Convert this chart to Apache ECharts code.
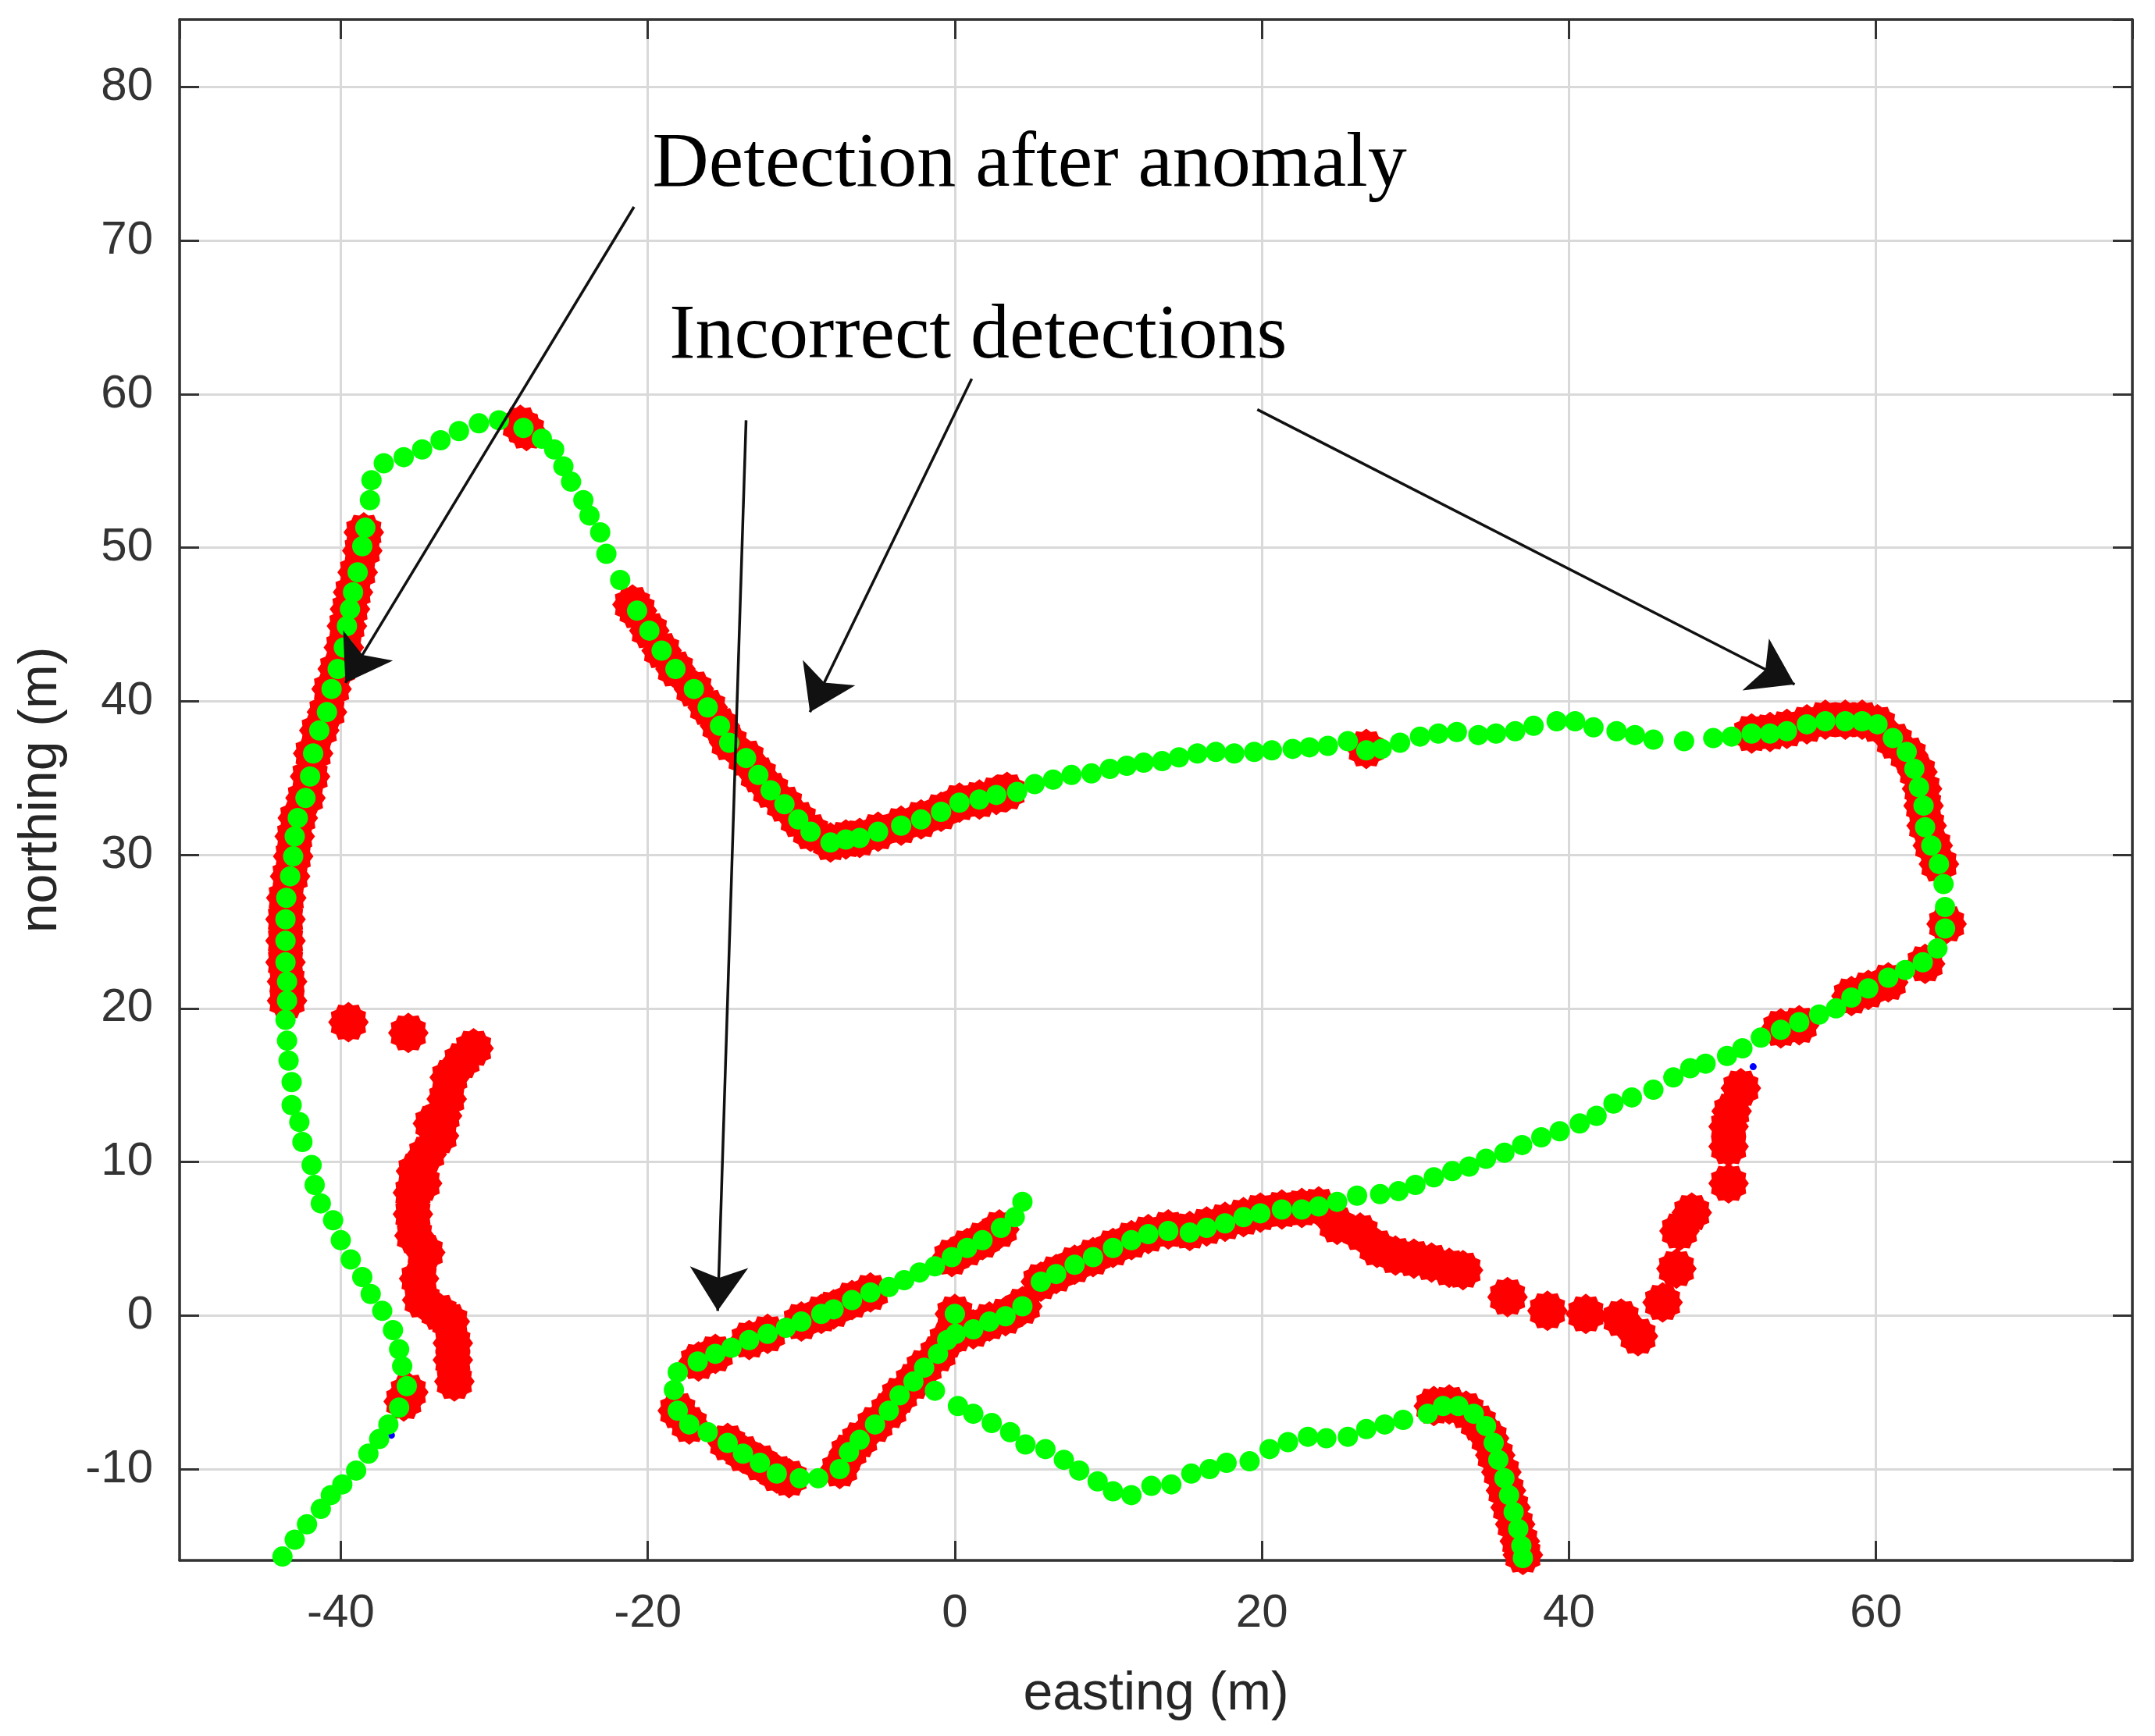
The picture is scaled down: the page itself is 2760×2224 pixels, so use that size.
<!DOCTYPE html>
<html>
<head>
<meta charset="utf-8">
<title>Detections along the track</title>
<script src="https://cdn.jsdelivr.net/npm/echarts@6/dist/echarts.min.js"></script>
<style>
html, body { margin: 0; padding: 0; background: #fff; }
#main { width: 2760px; height: 2224px; }
</style>
</head>
<body>
<div id="main"></div>
<script>
// axis extents (axis equal)
var xRange = [-50.5, 76.7];
var yRange = [-15.95, 84.4];

// green: vehicle track, [easting, northing]
var trackSouthWest = [[-43.8,-15.7],[-43.0,-14.6],[-42.2,-13.6],[-41.3,-12.6],[-40.65,-11.7],[-39.9,-11.0],[-39.0,-10.1],[-38.2,-9.0],[-37.5,-8.05],[-36.9,-7.1],[-36.2,-6.0],[-35.7,-4.6],[-36.0,-3.3],[-36.2,-2.2],[-36.6,-0.95],[-37.3,0.3],[-38.05,1.4],[-38.6,2.5],[-39.35,3.65],[-40.0,4.9],[-40.5,6.2],[-41.3,7.3],[-41.7,8.5],[-41.9,9.8],[-42.5,11.3],[-42.7,12.6],[-43.2,13.7],[-43.2,15.2],[-43.4,16.6],[-43.5,17.9],[-43.6,19.25]];
var trackWest = [[-43.5,20.5],[-43.5,21.75],[-43.6,23.0],[-43.6,24.4],[-43.6,25.8],[-43.55,27.2],[-43.3,28.6],[-43.1,29.9],[-43.0,31.2],[-42.8,32.4],[-42.3,33.7],[-42.0,35.1],[-41.8,36.6],[-41.4,38.1],[-40.9,39.3],[-40.6,40.8],[-40.2,42.1],[-39.8,43.5],[-39.6,44.9],[-39.4,46.0],[-39.2,47.1],[-38.9,48.4],[-38.6,50.1],[-38.4,51.3],[-38.1,53.1],[-38.0,54.4],[-37.2,55.5],[-35.9,55.9],[-34.7,56.4],[-33.5,57.0],[-32.3,57.6],[-31.0,58.1],[-29.7,58.3],[-28.1,57.8],[-26.9,57.1],[-26.1,56.4],[-25.5,55.3],[-25.0,54.3],[-24.2,53.1],[-23.8,52.1],[-23.1,51.0],[-22.7,49.6],[-21.8,47.9],[-20.7,45.9],[-19.9,44.6],[-19.1,43.3],[-18.2,42.1],[-17.0,40.8],[-16.1,39.6],[-15.3,38.4],[-14.7,37.3],[-13.6,36.3],[-12.8,35.2],[-12.0,34.2],[-11.1,33.3],[-10.2,32.3],[-9.4,31.5],[-8.1,30.8]];
var trackNorth = [[-7.1,31.0],[-6.2,31.1],[-5.0,31.5],[-3.5,31.9],[-2.2,32.3],[-0.9,32.8],[0.3,33.4],[1.6,33.6],[2.7,33.9],[4.05,34.1],[5.2,34.6],[6.4,34.9],[7.6,35.2],[8.9,35.3],[10.1,35.6],[11.2,35.8],[12.3,36.0],[13.5,36.1],[14.6,36.35],[15.8,36.6],[17.0,36.7],[18.2,36.6],[19.5,36.7],[20.65,36.8],[22.0,36.9],[23.1,37.0],[24.3,37.1],[25.6,37.4],[26.8,36.8],[27.8,36.9],[29.0,37.3],[30.3,37.7],[31.5,37.9],[32.7,38.0],[34.1,37.8],[35.25,37.9],[36.5,38.05],[37.7,38.4],[39.2,38.7],[40.4,38.7],[41.6,38.3],[43.1,38.05],[44.3,37.8],[45.5,37.5],[47.5,37.4],[49.4,37.6],[50.6,37.7],[51.9,37.9],[53.1,37.9],[54.2,38.05],[55.5,38.5],[56.7,38.7],[58.0,38.7],[59.1,38.7],[60.1,38.5]];
var trackEast = [[61.1,37.6],[62.0,36.7],[62.5,35.6],[62.8,34.4],[63.1,33.2],[63.2,31.8],[63.6,30.6],[64.1,29.4],[64.4,28.1],[64.5,26.6],[64.5,25.2],[64.0,23.9],[63.05,23.0],[61.9,22.5],[60.8,22.0],[59.5,21.3],[58.4,20.7],[57.4,20.0],[56.3,19.6],[55.0,19.1],[53.8,18.6],[52.5,18.1],[51.3,17.4],[50.3,16.9],[48.9,16.4],[47.9,16.1],[46.8,15.5],[45.5,14.7],[44.1,14.2],[42.9,13.8],[41.8,13.0],[40.7,12.5],[39.4,12.0],[38.2,11.6],[36.95,11.1],[35.8,10.6],[34.6,10.2],[33.5,9.7],[32.4,9.4],[31.2,9.0],[30.0,8.5],[28.9,8.1],[27.7,7.9],[26.2,7.8],[24.9,7.4],[23.7,7.1],[22.6,6.9],[21.3,6.9],[19.9,6.65],[18.8,6.4],[17.6,6.0],[16.4,5.7],[15.3,5.4],[13.9,5.5],[12.6,5.3],[11.5,4.9],[10.3,4.4],[9.0,3.8],[7.8,3.3],[6.6,2.7],[5.6,2.2],[4.4,0.6],[3.3,-0.05],[2.25,-0.4],[1.2,-0.9],[0.06,-1.2],[0.0,0.1],[-0.5,-1.6],[-1.1,-2.5],[-2.0,-3.4],[-2.7,-4.3],[-3.6,-5.2],[-4.3,-6.2],[-5.2,-7.1],[-6.2,-8.1],[-6.9,-8.9],[-7.5,-10.0],[-8.9,-10.6],[-10.1,-10.6],[-11.6,-10.3],[-12.7,-9.6],[-13.8,-9.0],[-14.8,-8.3],[-16.1,-7.6],[-17.3,-7.1],[-18.05,-6.2],[-18.3,-4.85],[-18.05,-3.7]];
var trackLoop = [[-16.75,-3.0],[-15.6,-2.5],[-14.55,-2.1],[-13.4,-1.6],[-12.2,-1.2],[-11.0,-0.8],[-10.0,-0.4],[-8.7,0.1],[-7.9,0.4],[-6.7,1.0],[-5.5,1.5],[-4.3,1.85],[-3.3,2.3],[-2.3,2.8],[-1.3,3.2],[-0.2,3.8],[0.8,4.4],[1.8,4.9],[3.0,5.7],[3.9,6.4],[4.4,7.4]];
var trackSouth = [[-1.3,-4.9],[0.2,-5.9],[1.2,-6.4],[2.4,-7.0],[3.6,-7.6],[4.6,-8.4],[5.9,-8.7],[7.1,-9.4],[8.1,-10.1],[9.3,-10.8],[10.3,-11.45],[11.5,-11.7],[12.8,-11.1],[14.1,-11.0],[15.4,-10.3],[16.6,-10.0],[17.7,-9.6],[19.2,-9.5],[20.5,-8.7],[21.7,-8.25],[23.0,-7.9],[24.2,-8.0],[25.6,-7.9],[26.8,-7.4],[28.0,-7.1],[29.2,-6.8],[30.8,-6.4],[31.8,-5.9],[32.8,-5.9],[33.8,-6.4],[34.6,-7.2],[35.1,-8.3],[35.4,-9.4],[35.8,-10.6],[36.1,-11.7],[36.4,-12.8],[36.7,-13.9],[36.9,-15.0],[37.0,-15.8]];

// red: detections
var detWest = [[-43.5,20.5],[-43.5,21.75],[-43.6,23.0],[-43.6,24.4],[-43.6,25.8],[-43.55,27.2],[-43.3,28.6],[-43.1,29.9],[-43.0,31.2],[-42.8,32.4],[-42.3,33.7],[-42.0,35.1],[-41.8,36.6],[-41.4,38.1],[-40.9,39.3],[-40.6,40.8],[-40.2,42.1],[-39.8,43.5],[-39.6,44.9],[-39.4,46.0],[-39.2,47.1],[-38.9,48.4],[-38.6,49.8],[-38.5,51.0]];
var detNorth = [[-28.3,58.0],[-27.9,57.6],[-21.0,46.3],[-20.7,45.9],[-19.9,44.6],[-19.1,43.3],[-18.2,42.1],[-17.0,40.8],[-16.1,39.6],[-15.3,38.4],[-14.7,37.3],[-13.6,36.3],[-12.8,35.2],[-12.0,34.2],[-11.1,33.3],[-10.2,32.3],[-9.4,31.5],[-8.1,30.8],[-7.1,31.0],[-6.2,31.1],[-5.0,31.5],[-3.5,31.9],[-2.2,32.3],[-0.9,32.8],[0.3,33.4],[1.6,33.6],[2.7,33.9],[3.4,34.1],[26.8,36.9]];
var detEast = [[51.9,37.9],[53.1,38.0],[54.2,38.2],[55.5,38.5],[56.7,38.8],[58.0,38.8],[59.1,38.8],[60.1,38.5],[61.2,37.4],[62.1,36.5],[62.7,35.4],[63.0,34.3],[63.1,33.2],[63.3,31.9],[63.7,30.6],[64.1,29.4],[64.6,25.5],[63.2,22.9],[60.8,21.7],[59.5,21.2],[58.4,20.8],[55.0,18.9],[53.8,18.7]];
var detLoop = [[-16.7,-3.0],[-15.6,-2.5],[-13.4,-1.6],[-12.2,-1.2],[-10.0,-0.4],[-8.7,0.1],[-7.9,0.4],[-6.7,1.0],[-5.5,1.5],[-0.2,3.8],[0.8,4.4],[1.8,4.9],[2.9,5.6],[-18.05,-6.2],[-17.3,-7.1],[-14.8,-8.3],[-13.8,-9.0],[-12.7,-9.6],[-11.6,-10.3],[-10.8,-10.6]];
var detRising = [[-7.5,-10.0],[-6.9,-8.9],[-6.2,-8.1],[-5.2,-7.1],[-4.3,-6.2],[-3.6,-5.2],[-2.7,-4.3],[-2.0,-3.4],[-1.1,-2.5],[-0.5,-1.6],[0.0,0.1],[0.06,-1.2],[1.2,-0.9],[2.25,-0.4],[3.3,-0.05],[4.4,0.6],[5.6,2.2],[6.6,2.7],[7.8,3.3],[9.0,3.8],[10.3,4.4],[11.5,4.9],[12.6,5.3],[13.9,5.6],[15.3,5.5],[16.4,5.8],[17.6,6.1],[18.8,6.4],[19.9,6.7],[21.3,6.9],[22.6,7.0],[23.7,7.1]];
var detFalseEast = [[24.9,5.9],[26.4,5.4],[27.5,4.4],[28.7,3.9],[29.9,3.7],[31.05,3.45],[32.2,3.1],[33.1,2.95],[36.0,1.2],[38.6,0.3],[41.1,0.1],[43.4,-0.2],[44.5,-1.35],[46.1,0.85],[47.0,3.05],[47.2,5.5],[48.0,6.7],[50.4,8.6],[50.4,11.0],[50.4,12.3],[50.6,13.3],[51.2,14.8]];
var detFalseWest = [[-39.5,19.1],[-35.6,18.4],[-31.35,17.4],[-32.1,16.6],[-32.9,15.5],[-33.1,14.1],[-33.4,13.0],[-34.0,12.5],[-33.6,11.7],[-34.4,10.5],[-35.1,9.4],[-34.7,8.6],[-35.3,8.0],[-35.3,6.6],[-35.2,5.2],[-34.5,4.1],[-34.9,2.4],[-34.7,1.0],[-33.6,0.2],[-32.9,-0.4],[-32.7,-1.8],[-32.7,-2.9],[-32.6,-4.3],[-35.6,-5.0],[-35.9,-5.6]];
var detHook = [[31.2,-5.9],[32.2,-5.8],[33.3,-6.2],[34.1,-7.0],[34.8,-8.0],[35.2,-9.1],[35.6,-10.2],[35.9,-11.4],[36.2,-12.5],[36.5,-13.6],[36.8,-14.7],[37.0,-15.6]];

// blue: the few reference points that are not covered
var refDots = [[-36.7,-7.8],[52.0,16.2]];

// annotations
var arrows = [
    [[-20.9,72.2],[-39.7,41.2]],
    [[1.1,61.0],[-9.44,39.3]],
    [[-13.6,58.3],[-15.45,0.3]],
    [[19.7,59.0],[54.7,41.1]]
];
var notes = [
    { value: [-19.7, 74.9], name: 'Detection after anomaly' },
    { value: [-18.6, 63.7], name: 'Incorrect detections' }
];

var track = [].concat(trackSouthWest, trackWest, trackNorth, trackEast, trackLoop, trackSouth);
var detections = [].concat(detWest, detNorth, detEast, detLoop, detRising, detFalseEast, detFalseWest, detHook);

// scalloped marker like the matlab '*' blobs
function gear(n, inner) {
    var d = '';
    for (var i = 0; i < 2 * n; i++) {
        var a = i * Math.PI / n, r = i % 2 ? inner : 1;
        d += (i ? 'L' : 'M') + (r * Math.cos(a)).toFixed(3) + ',' + (r * Math.sin(a)).toFixed(3);
    }
    return 'path://' + d + 'Z';
}

var ink = '#333';
var tickFont = { fontFamily: 'Liberation Sans', fontSize: 60, color: '#333' };
var nameFont = { fontFamily: 'Liberation Sans', fontSize: 68, color: '#262626' };

function axis(extra) {
    var base = {
        type: 'value',
        axisLine: { show: true, onZero: false, lineStyle: { color: ink, width: 3.5 } },
        axisTick: { show: true, inside: true, length: 25, lineStyle: { color: ink, width: 3 } },
        splitLine: { show: false },
        axisLabel: { show: false }
    };
    return Object.assign(base, extra);
}

var xShared = { min: xRange[0], max: xRange[1], splitNumber: 6, minInterval: 20, maxInterval: 20 };
var yShared = { min: yRange[0], max: yRange[1], splitNumber: 10, minInterval: 10, maxInterval: 10 };

var chart = echarts.init(document.getElementById('main'), null, { renderer: 'canvas' });

var option = {
    animation: false,
    backgroundColor: '#fff',
    grid: { left: 230, right: 29, top: 25, bottom: 225, containLabel: false },
    xAxis: [
        axis(Object.assign({}, xShared, {
            position: 'bottom',
            name: 'easting (m)', nameLocation: 'middle', nameGap: 138, nameTextStyle: nameFont,
            splitLine: { show: true, lineStyle: { color: '#d9d9d9', width: 3 } },
            axisLabel: Object.assign({ show: true, margin: 38, showMinLabel: false, showMaxLabel: false }, tickFont)
        })),
        axis(Object.assign({}, xShared, { position: 'top' }))
    ],
    yAxis: [
        axis(Object.assign({}, yShared, {
            position: 'left',
            name: 'northing (m)', nameLocation: 'middle', nameGap: 143, nameTextStyle: nameFont,
            splitLine: { show: true, lineStyle: { color: '#d9d9d9', width: 3 } },
            axisLabel: Object.assign({ show: true, margin: 34, showMinLabel: false, showMaxLabel: false }, tickFont)
        })),
        axis(Object.assign({}, yShared, { position: 'right' }))
    ],
    series: [
        {
            type: 'scatter', name: 'reference',
            data: refDots, symbol: 'circle', symbolSize: 9,
            itemStyle: { color: '#0000ff', opacity: 1 }, z: 2
        },
        {
            type: 'scatter', name: 'detections',
            data: detections, symbol: gear(12, 0.86), symbolSize: 52,
            itemStyle: { color: '#ff0000', opacity: 1 }, z: 3
        },
        {
            type: 'scatter', name: 'track',
            data: track, symbol: 'circle', symbolSize: 26,
            itemStyle: { color: '#00ff00', opacity: 1 }, z: 4
        },
        {
            type: 'lines', coordinateSystem: 'cartesian2d',
            data: arrows.map(function (s) { return { coords: s }; }),
            symbol: ['none', 'arrow'], symbolSize: 56,
            lineStyle: { color: '#111', width: 3.5, opacity: 1 },
            z: 5
        },
        {
            type: 'scatter', name: 'notes',
            data: notes, symbolSize: 0, z: 6,
            itemStyle: { opacity: 1 },
            label: {
                show: true, position: 'right', distance: 0,
                formatter: '{b}', opacity: 1,
                fontFamily: 'Liberation Serif', fontSize: 100, color: '#000'
            }
        }
    ]
};

chart.setOption(option);
</script>
</body>
</html>
